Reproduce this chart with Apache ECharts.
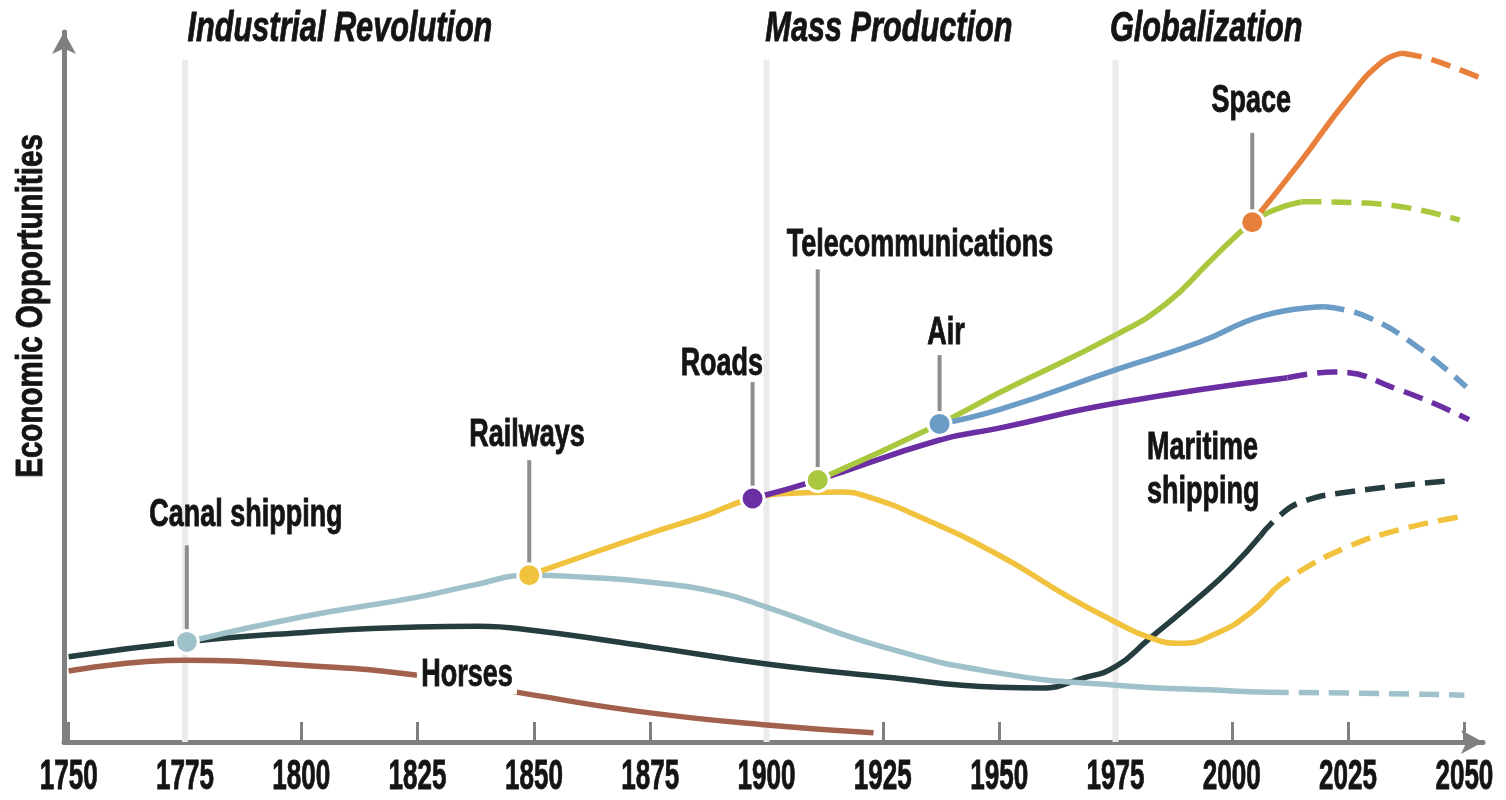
<!DOCTYPE html>
<html>
<head>
<meta charset="utf-8">
<title>Economic Opportunities</title>
<script src="https://cdn.jsdelivr.net/npm/echarts@6/dist/echarts.min.js"></script>
<style>
  html, body { margin: 0; padding: 0; background: #fff; }
  #chart { width: 1506px; height: 800px; }
</style>
</head>
<body>
<div id="chart"></div>
<script>
// axis
const tickYears = [1750, 1775, 1800, 1825, 1850, 1875, 1900, 1925, 1950, 1975, 2000, 2025, 2050]
const eraYears = [1775, 1900, 1975]
const eraNames = ['Industrial Revolution', 'Mass Production', 'Globalization']

// horses
const horsesYears = [1750, 1775, 1800, 1825, 1850, 1875, 1900, 1923]
const horsesValues = [10.0, 11.5, 10.8, 9.4, 6.6, 4.1, 2.4, 1.3]

// maritime shipping
const maritimeYears = [1750, 1775, 1800, 1825, 1838, 1850, 1875, 1900, 1925, 1950, 1959, 1968, 1975, 1982, 1993, 2000, 2006]
const maritimeValues = [12.0, 14.1, 15.4, 16.2, 16.3, 15.7, 13.4, 11.0, 9.2, 7.7, 7.6, 9.0, 10.6, 14.4, 20.4, 24.6, 28.9]
const maritimeFutureYears = [2006, 2010, 2015, 2025, 2047]
const maritimeFutureValues = [28.9, 31.7, 33.8, 35.2, 36.8]

// canal shipping
const canalYears = [1775.4, 1800, 1825, 1837, 1849, 1861, 1875, 1890, 1900, 1925, 1950, 1975, 2000, 2008]
const canalValues = [14.1, 17.6, 20.4, 22.1, 23.5, 23.2, 22.5, 21.0, 19.0, 13.4, 9.7, 8.0, 7.2, 7.0]
const canalFutureYears = [2008, 2025, 2050]
const canalFutureValues = [7.0, 6.9, 6.6]

// railways
const railYears = [1849, 1875, 1886, 1897, 1908, 1916, 1922, 1933, 1950, 1965, 1975, 1982, 1989, 1997, 2004, 2009]
const railValues = [23.5, 29.4, 31.7, 34.3, 35.1, 35.2, 34.5, 31.7, 26.3, 20.4, 16.9, 14.8, 13.9, 15.4, 18.2, 21.4]
const railFutureYears = [2009, 2014, 2025, 2036, 2049]
const railFutureValues = [21.4, 23.8, 27.5, 29.9, 31.7]

// roads
const roadYears = [1897, 1911, 1937, 1950, 1975, 2012]
const roadValues = [34.3, 36.9, 42.5, 44.2, 47.7, 51.3]
const roadFutureYears = [2012, 2022, 2036, 2051]
const roadFutureValues = [51.3, 52.1, 49.6, 45.4]

// telecommunications
const telecomYears = [1911, 1937.2, 1950, 1975, 1986, 1995, 2000, 2004.4, 2009, 2015]
const telecomValues = [36.9, 44.8, 49.2, 57.3, 61.8, 67.5, 70.7, 73.2, 74.9, 76.1]
const telecomFutureYears = [2015, 2029, 2049]
const telecomFutureValues = [76.1, 75.9, 73.5]

// air
const airYears = [1937.2, 1950, 1975, 1993, 2007, 2020]
const airValues = [44.8, 46.8, 52.4, 56.3, 60.1, 61.3]
const airFutureYears = [2020, 2029, 2040, 2050.4]
const airFutureValues = [61.3, 59.9, 55.6, 50.0]

// space
const spaceYears = [2004.4, 2014.5, 2025.2, 2032.3, 2036.6]
const spaceValues = [73.2, 81.5, 90.8, 95.8, 97.0]
const spaceFutureYears = [2036.6, 2043, 2054.6]
const spaceFutureValues = [97.0, 96.1, 93.2]

// where each mode starts
const nodeNames = ['Canal shipping', 'Railways', 'Roads', 'Telecommunications', 'Air', 'Space']
const nodeYears = [1775.4, 1849, 1897, 1911, 1937.2, 2004.4]
const nodeValues = [14.1, 23.5, 34.3, 36.9, 44.8, 73.2]

const FONT = "'Liberation Sans', Arial, sans-serif"
const INK = '#141414'
const colors = {
  horses: '#a2614c',
  maritime: '#263d40',
  canal: '#9fc1c9',
  rail: '#f0c23e',
  road: '#6b2fa3',
  telecom: '#a9c83e',
  air: '#6b9cc6',
  space: '#e8803c'
}
const nodeColors = [colors.canal, colors.rail, colors.road, colors.telecom, colors.air, colors.space]

// label layout, in data units
const leaderTops = [27.7, 39.7, 50.7, 66.6, 54.5, 85.8]
const labelAt = [[1788.1, 31.9], [1848.5, 43.2], [1890.4, 53.1], [1933.0, 69.9], [1938.6, 57.5], [2004.2, 90.2]]
const eraLabelAt = [[1808.3, 100.3], [1926.3, 100.3], [1994.5, 100.3]]

function zip(xs, ys) {
  return xs.map((x, i) => [x, ys[i]])
}

function curve(years, values, color, dashed) {
  return {
    type: 'line',
    data: zip(years, values),
    smooth: 0.5,
    symbol: 'none',
    clip: false,
    silent: true,
    z: 3,
    lineStyle: {
      color: color,
      width: 5.5,
      type: dashed ? [20, 10] : 'solid',
      cap: 'butt'
    }
  }
}

// condensed text drawn through the axes
function textLayer(points, texts, opts) {
  return {
    type: 'custom',
    clip: false,
    silent: true,
    z: 8,
    data: points,
    renderItem: function (params, api) {
      const p = api.coord([api.value(0), api.value(1)])
      const i = params.dataIndex
      const extra = (opts.each && opts.each[i]) || {}
      return {
        type: 'text',
        x: p[0],
        y: p[1],
        scaleX: opts.scaleX,
        style: Object.assign({
          text: texts[i],
          font: opts.font,
          fill: INK,
          stroke: INK,
          lineWidth: 0.9,
          align: 'center',
          verticalAlign: 'middle'
        }, extra)
      }
    }
  }
}

const series = []

// era separators
eraYears.forEach(y => {
  series.push({
    type: 'line',
    data: [[y, 0], [y, 96.1]],
    symbol: 'none',
    silent: true,
    z: 1,
    lineStyle: { color: '#ebebeb', width: 6 }
  })
})

series.push(
  curve(horsesYears, horsesValues, colors.horses),
  curve(maritimeYears, maritimeValues, colors.maritime),
  curve(maritimeFutureYears, maritimeFutureValues, colors.maritime, true),
  curve(canalYears, canalValues, colors.canal),
  curve(canalFutureYears, canalFutureValues, colors.canal, true),
  curve(railYears, railValues, colors.rail),
  curve(railFutureYears, railFutureValues, colors.rail, true),
  curve(roadYears, roadValues, colors.road),
  curve(roadFutureYears, roadFutureValues, colors.road, true),
  curve(telecomYears, telecomValues, colors.telecom),
  curve(telecomFutureYears, telecomFutureValues, colors.telecom, true),
  curve(airYears, airValues, colors.air),
  curve(airFutureYears, airFutureValues, colors.air, true),
  curve(spaceYears, spaceValues, colors.space),
  curve(spaceFutureYears, spaceFutureValues, colors.space, true)
)

// leader lines
nodeYears.forEach((y, i) => {
  series.push({
    type: 'line',
    data: [[y, nodeValues[i]], [y, leaderTops[i]]],
    symbol: 'none',
    silent: true,
    z: 4,
    lineStyle: { color: '#8e8e8e', width: 4 }
  })
})

// markers
series.push({
  type: 'scatter',
  symbolSize: 23,
  z: 6,
  silent: true,
  data: nodeYears.map((y, i) => ({
    value: [y, nodeValues[i]],
    itemStyle: { color: nodeColors[i], borderColor: '#fff', borderWidth: 3, opacity: 1 }
  }))
})

// node labels + free labels
series.push(textLayer(
  labelAt.concat([[1981.8, 38.3], [1835.6, 9.4]]),
  nodeNames.concat(['Maritime\nshipping', 'Horses']),
  {
    font: 'bold 38px ' + FONT,
    scaleX: 0.71,
    each: {
      6: { align: 'left', lineHeight: 44 },
      7: { backgroundColor: '#fff', padding: [0, 6] }
    }
  }
))

// era titles
series.push(textLayer(eraLabelAt, eraNames, {
  font: 'italic bold 42px ' + FONT,
  scaleX: 0.73
}))

// year labels under the axis
series.push(textLayer(tickYears.map(y => [y, -5]), tickYears.map(String), {
  font: 'bold 42px ' + FONT,
  scaleX: 0.62
}))

const chart = echarts.init(document.getElementById('chart'))
chart.setOption({
  animation: false,
  backgroundColor: '#fff',
  grid: { left: 64, right: 23, top: 32, bottom: 58, containLabel: false },
  xAxis: {
    type: 'value',
    min: 1749,
    max: 2054,
    splitLine: { show: false },
    axisLine: {
      show: true,
      symbol: ['none', 'arrow'],
      symbolSize: [18, 22],
      lineStyle: { color: '#7f7f7f', width: 5 }
    },
    axisTick: {
      show: true,
      inside: true,
      length: 20,
      customValues: tickYears,
      lineStyle: { color: '#7f7f7f', width: 3 }
    },
    axisLabel: { show: false }
  },
  yAxis: {
    type: 'value',
    min: 0,
    max: 100,
    splitLine: { show: false },
    axisTick: { show: false },
    axisLabel: { show: false },
    axisLine: {
      show: true,
      onZero: false,
      symbol: ['none', 'arrow'],
      symbolSize: [18, 22],
      lineStyle: { color: '#7f7f7f', width: 5 }
    }
  },
  graphic: [{
    type: 'text',
    x: 32,
    y: 306,
    rotation: Math.PI / 2,
    scaleX: 0.8,
    style: {
      text: 'Economic Opportunities',
      align: 'center',
      verticalAlign: 'middle',
      fill: INK,
      stroke: INK,
      lineWidth: 0.9,
      font: 'bold 37px ' + FONT
    }
  }],
  series: series
})
</script>
</body>
</html>
